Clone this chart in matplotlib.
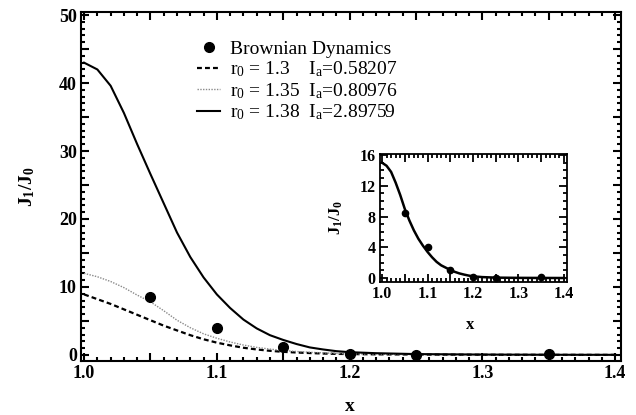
import matplotlib
matplotlib.use("Agg")
import matplotlib.pyplot as plt
from matplotlib.ticker import MultipleLocator, FuncFormatter

# 数据
x_grid = [1.00, 1.01, 1.02, 1.03, 1.04, 1.05, 1.06, 1.07, 1.08, 1.09, 1.10,
          1.11, 1.12, 1.13, 1.14, 1.15, 1.16, 1.17, 1.18, 1.19, 1.20,
          1.22, 1.25, 1.30, 1.35, 1.40]
j_r130 = [8.9, 8.2, 7.5, 6.7, 5.9, 5.1, 4.3, 3.6, 2.9, 2.3, 1.8,
          1.4, 1.05, 0.8, 0.6, 0.45, 0.35, 0.27, 0.2, 0.15, 0.12,
          0.08, 0.05, 0.02, 0.01, 0.0]
j_r135 = [12.0, 11.5, 10.8, 9.9, 8.8, 7.8, 6.5, 5.1, 4.0, 3.1, 2.45,
          1.9, 1.45, 1.1, 0.85, 0.65, 0.5, 0.38, 0.3, 0.22, 0.16,
          0.1, 0.05, 0.02, 0.01, 0.0]
j_r138 = [43.0, 42.0, 39.6, 35.6, 31.0, 26.6, 22.3, 18.0, 14.4, 11.4, 8.9,
          6.9, 5.2, 3.9, 2.9, 2.2, 1.6, 1.1, 0.8, 0.55, 0.4,
          0.25, 0.12, 0.05, 0.02, 0.01]
j_inset = [15.0, 14.6, 13.8, 12.4, 10.8, 9.0, 7.5, 6.2, 5.1, 4.2, 3.4,
           2.7, 2.1, 1.65, 1.35, 1.05, 0.8, 0.6, 0.45, 0.32, 0.22,
           0.12, 0.05, 0.02, 0.01, 0.0]
bd_x = [1.05, 1.10, 1.15, 1.20, 1.25, 1.35]
bd_y = [8.5, 4.0, 1.1, 0.15, 0.05, 0.1]

labels = [
    "Brownian Dynamics",
    "r$_0$ = 1.3    I$_\\mathrm{a}$=0.58207",
    "r$_0$ = 1.35  I$_\\mathrm{a}$=0.80976",
    "r$_0$ = 1.38  I$_\\mathrm{a}$=2.89759",
]

plt.rcParams["font.family"] = ["Liberation Serif", "DejaVu Serif"]
plt.rcParams["mathtext.fontset"] = "custom"
plt.rcParams["mathtext.rm"] = "Liberation Serif"
plt.rcParams["mathtext.it"] = "Liberation Serif:italic"
plt.rcParams["mathtext.bf"] = "Liberation Serif:bold"


def style_axes(ax, fs, xmaj, xmin, ymaj, ymin, xlab_step, ylab_step, lw):
    ax.xaxis.set_major_locator(MultipleLocator(xmaj))
    ax.xaxis.set_minor_locator(MultipleLocator(xmin))
    ax.yaxis.set_major_locator(MultipleLocator(ymaj))
    ax.yaxis.set_minor_locator(MultipleLocator(ymin))
    ax.xaxis.set_major_formatter(FuncFormatter(
        lambda v, p: f"{v:.1f}" if abs(v / xlab_step - round(v / xlab_step)) < 1e-6 else ""))
    ax.yaxis.set_major_formatter(FuncFormatter(
        lambda v, p: f"{v:.0f}" if abs(v / ylab_step - round(v / ylab_step)) < 1e-6 else ""))
    ax.tick_params(which="both", direction="in", top=True, right=True, width=lw)
    ax.tick_params(which="major", length=6, labelsize=fs, pad=3)
    ax.tick_params(which="minor", length=3)
    for lab in ax.get_xticklabels() + ax.get_yticklabels():
        lab.set_fontweight("bold")
    for s in ax.spines.values():
        s.set_linewidth(lw)


fig = plt.figure(figsize=(6.36, 4.15), dpi=100)
ax = fig.add_axes([0.1274, 0.1301, 0.849, 0.8417])

ax.plot(bd_x, bd_y, "o", color="black", markersize=7, label=labels[0], zorder=5)
ax.plot(x_grid, j_r130, color="black", lw=1.6, dashes=(2.2, 1.4), label=labels[1])
ax.plot(x_grid, j_r135, color="#8a8a8a", lw=1.0, dashes=(1.0, 1.0), label=labels[2])
ax.plot(x_grid, j_r138, color="black", lw=1.5, label=labels[3])

ax.set_xlim(0.9977, 1.4044)
ax.set_ylim(-0.9, 50.5)
style_axes(ax, 13, 0.05, 0.01, 5, 1, 0.1, 10, 1.5)
ax.set_xlabel("x", fontsize=14, fontweight="bold")
ax.set_ylabel("J$_\\mathbf{1}$/J$_\\mathbf{0}$", fontsize=14, fontweight="bold")
ax.xaxis.set_label_coords(0.498, -0.106)
ax.yaxis.set_label_coords(-0.081, 0.5)

ax.legend(loc="upper left", bbox_to_anchor=(0.2148, 0.918), frameon=False,
          fontsize=14, numpoints=1, handlelength=1.2, handletextpad=0.5,
          borderpad=0, borderaxespad=0, labelspacing=0.09)

# 内嵌图
ins = fig.add_axes([0.5975, 0.3212, 0.294, 0.3077])
ins.plot(x_grid, j_inset, color="black", lw=1.8)
ins.plot(bd_x, bd_y, "o", color="black", markersize=4.5, zorder=5)
ins.set_xlim(0.9956, 1.4066)
ins.set_ylim(-0.48, 16.13)
style_axes(ins, 11.5, 0.05, 0.01, 4, 1, 0.1, 4, 1.3)
ins.set_xlabel("x", fontsize=12, fontweight="bold")
ins.set_ylabel("J$_\\mathbf{1}$/J$_\\mathbf{0}$", fontsize=12, fontweight="bold")
ins.xaxis.set_label_coords(0.48, -0.276)
ins.yaxis.set_label_coords(-0.187, 0.5)

fig.savefig("out.png", dpi=100)
